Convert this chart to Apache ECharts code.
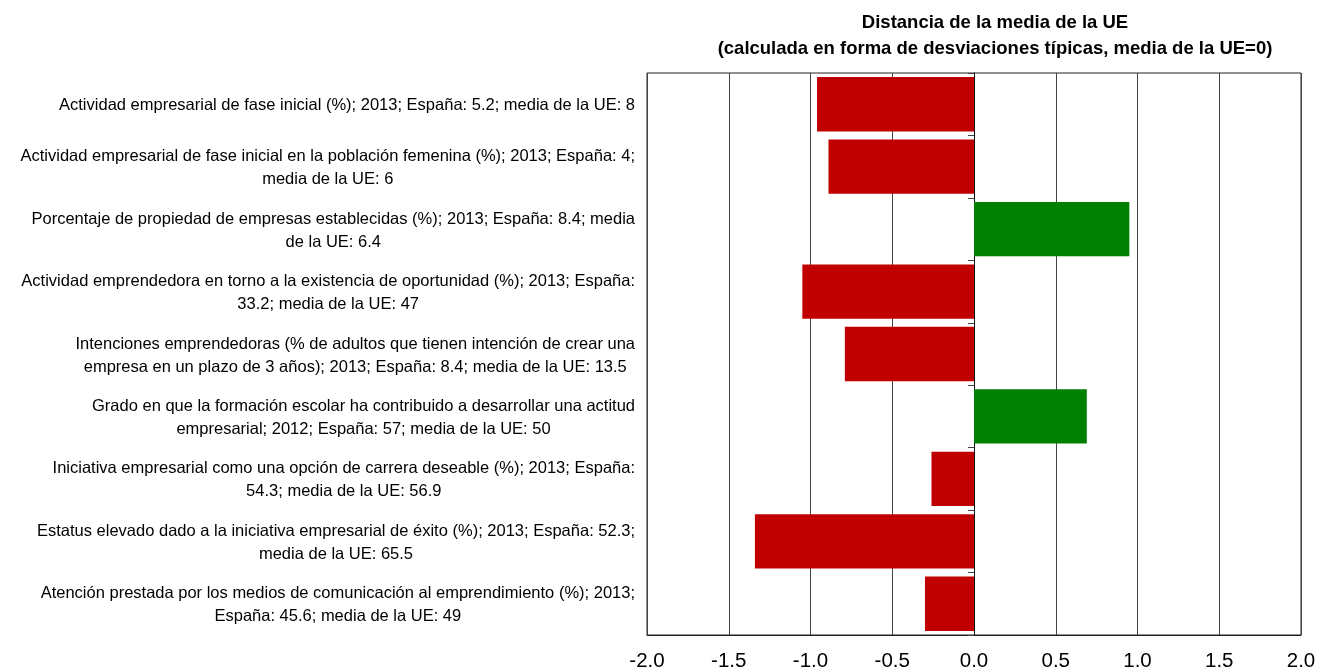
<!DOCTYPE html>
<html>
<head>
<meta charset="utf-8">
<script src="https://cdn.jsdelivr.net/npm/echarts@6/dist/echarts.min.js"></script>
<style>
  html, body { margin: 0; padding: 0; background: #fff; }
  #chart { width: 1331px; height: 672px; }
</style>
</head>
<body>
<div id="chart"></div>
<script>
// indicator labels (top to bottom), already broken into lines as in the source
const categories = [
  ['Actividad empresarial de fase inicial (%); 2013; España: 5.2; media de la UE: 8'],
  ['Actividad empresarial de fase inicial en la población femenina (%); 2013; España: 4;', 'media de la UE: 6'],
  ['Porcentaje de propiedad de empresas establecidas (%); 2013; España: 8.4; media', 'de la UE: 6.4'],
  ['Actividad emprendedora en torno a la existencia de oportunidad (%); 2013; España:', '33.2; media de la UE: 47'],
  ['Intenciones emprendedoras (% de adultos que tienen intención de crear una', 'empresa en un plazo de 3 años); 2013; España: 8.4; media de la UE: 13.5'],
  ['Grado en que la formación escolar ha contribuido a desarrollar una actitud', 'empresarial; 2012; España: 57; media de la UE: 50'],
  ['Iniciativa empresarial como una opción de carrera deseable (%); 2013; España:', '54.3; media de la UE: 56.9'],
  ['Estatus elevado dado a la iniciativa empresarial de éxito (%); 2013; España: 52.3;', 'media de la UE: 65.5'],
  ['Atención prestada por los medios de comunicación al emprendimiento (%); 2013;', 'España: 45.6; media de la UE: 49']
]

// distance from EU mean, in standard deviations
const distance = [-0.96, -0.89, 0.95, -1.05, -0.79, 0.69, -0.26, -1.34, -0.30]

const xMin = -2
const xMax = 2
const xStep = 0.5

const titleLines = [
  'Distancia de la media de la UE',
  '(calculada en forma de desviaciones típicas, media de la UE=0)'
]

const FONT = "'Liberation Sans', Arial, sans-serif"

const chart = echarts.init(document.getElementById('chart'))

const option = {
  backgroundColor: '#fff',
  animation: false,
  title: {
    text: titleLines.join('\n'),
    left: 990,
    top: 5,
    textAlign: 'center',
    textStyle: {
      fontFamily: FONT,
      fontSize: 18.5,
      fontWeight: 'bold',
      color: '#000',
      lineHeight: 26
    }
  },
  grid: {
    left: 647,
    top: 73,
    width: 654,
    height: 564,
    show: true,
    borderColor: '#222',
    borderWidth: 1,
    backgroundColor: 'transparent'
  },
  xAxis: {
    type: 'value',
    min: xMin,
    max: xMax,
    interval: xStep,
    axisLine: { show: true, onZero: false, lineStyle: { color: '#222' } },
    axisTick: { show: false },
    splitLine: { show: true, lineStyle: { color: '#444', width: 1 } },
    axisLabel: {
      margin: 16,
      fontFamily: FONT,
      fontSize: 20.5,
      color: '#000',
      formatter: v => v.toFixed(1)
    }
  },
  yAxis: [
    {
      type: 'category',
      inverse: true,
      data: categories.map(lines => lines.join('\n')),
      axisLine: { show: false, onZero: false },
      axisTick: { show: false },
      axisLabel: {
        margin: 12,
        color: '#000',
        fontFamily: FONT,
        fontSize: 16.5,
        lineHeight: 23,
        padding: [3, 0, 0, 0],
        formatter: v => v.split('\n').map(s => '{c|' + s + '}').join('\n'),
        rich: {
          c: {
            align: 'center',
            fontFamily: FONT,
            fontSize: 16.5,
            lineHeight: 23,
            color: '#000'
          }
        }
      }
    },
    {
      // zero line with category boundary ticks
      type: 'category',
      position: 'left',
      inverse: true,
      data: categories.map((_, i) => i),
      axisLine: { show: true, onZero: true, lineStyle: { color: '#111', width: 1 } },
      axisTick: { show: true, length: 6, lineStyle: { color: '#444' } },
      axisLabel: { show: false },
      splitLine: { show: false }
    }
  ],
  series: [
    {
      type: 'bar',
      yAxisIndex: 0,
      data: distance,
      barCategoryGap: '13%',
      itemStyle: {
        color: p => (p.value < 0 ? '#C00000' : '#008000')
      }
    }
  ]
}

chart.setOption(option)
</script>
</body>
</html>
